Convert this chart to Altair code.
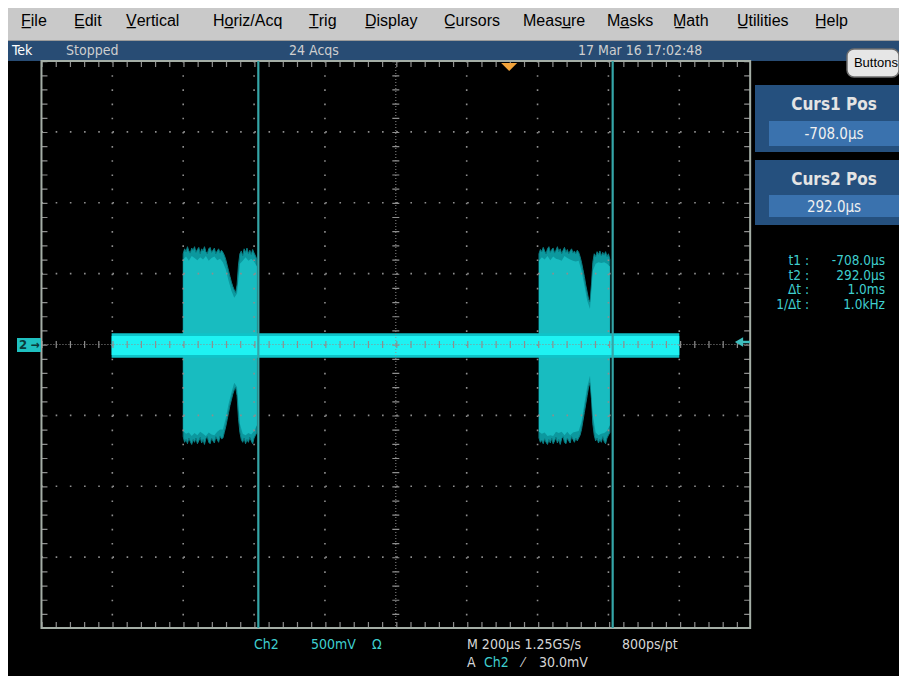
import altair as alt
import pandas as pd

# ---------------- data ----------------
MENU_ITEMS = ["File", "Edit", "Vertical", "Horiz/Acq", "Trig", "Display",
              "Cursors", "Measure", "Masks", "Math", "Utilities", "Help"]
MENU_HOTKEY = [0, 0, 0, 1, 0, 0, 0, 4, 1, 0, 0, 0]
STATUS_ITEMS = ["Tek", "Stopped", "24 Acqs", "17 Mar 16 17:02:48"]
CURSOR_NAMES = ["Curs1 Pos", "Curs2 Pos"]
CURSOR_TIMES = [-708.0, 292.0]          # µs
CURSOR_TEXT = ["-708.0µs", "292.0µs"]
READOUT_LABELS = ["t1 :", "t2 :", "Δt :", "1/Δt :"]
READOUT_VALUES = ["-708.0µs", "292.0µs", "1.0ms", "1.0kHz"]
CH_INFO = ["Ch2", "500mV", "Ω"]
HORIZ_INFO = ["M 200µs 1.25GS/s", "800ps/pt"]
TRIG_INFO = ["A", "Ch2", "⁄", "30.0mV"]
BUTTON_LABEL = "Buttons"

TIME_PER_DIV = 200.0     # µs / div
MV_PER_DIV = 500.0       # mV / div
TIME_LEFT = -1320.0      # µs at left graticule edge
N_HDIV, N_VDIV = 10, 8
TRIGGER_TIME = 0.0
TRACE_SPAN = [-1122.0, 480.0]
BAND_MV = [60.0, -74.0]
BAND_HALO_MV = [80.0, -94.0]

# burst envelopes (outer peaks), µs / mV
BURST1_T = [-920, -916, -912, -908, -904, -900, -896, -892, -888, -884, -880, -876,
            -872, -868, -864, -860, -856, -852, -848, -844, -840, -836, -832, -828,
            -824, -820, -816, -812, -808, -804, -800, -796, -792, -788, -784, -780,
            -776, -772, -768, -764, -760, -756, -752, -748, -744, -740, -736, -732,
            -728, -724, -720, -716, -712]
BURST1_TOP = [640, 675, 655, 690, 660, 645, 680, 665, 690, 650, 670, 685,
              640, 675, 660, 690, 655, 640, 675, 685, 650, 665, 680, 640,
              660, 675, 645, 665, 650, 630, 600, 560, 520, 480, 440, 410,
              385, 365, 420, 560, 640, 660, 625, 675, 650, 680, 640, 665,
              635, 670, 645, 625, 600]
BURST1_BOT = [-650, -690, -670, -700, -660, -685, -705, -670, -690, -660, -700, -680,
              -655, -695, -670, -705, -665, -650, -690, -700, -660, -680, -695, -650,
              -670, -690, -645, -665, -660, -620, -580, -530, -480, -430, -390, -350,
              -320, -300, -360, -520, -620, -670, -690, -660, -700, -670, -690, -655,
              -680, -700, -660, -640, -620]

BURST2_T = [84, 88, 92, 96, 100, 104, 108, 112, 116, 120, 124, 128, 132, 136, 140,
            144, 148, 152, 156, 160, 164, 168, 172, 176, 180, 184, 188, 192, 196,
            200, 204, 208, 212, 216, 220, 224, 228, 232, 236, 240, 244, 248, 252,
            256, 260, 264, 268, 272, 276, 280, 284]
BURST2_TOP = [640, 670, 655, 685, 660, 640, 675, 690, 650, 670, 680, 645, 665, 690, 655,
              675, 640, 665, 685, 650, 670, 640, 660, 675, 645, 660, 640, 665, 650,
              620, 580, 530, 480, 420, 370, 320, 300, 420, 580, 640, 620, 655, 635,
              660, 625, 650, 630, 655, 620, 640, 600]
BURST2_BOT = [-660, -690, -675, -700, -665, -690, -705, -670, -695, -660, -700, -680, -655,
              -695, -670, -705, -665, -650, -690, -700, -660, -680, -695, -650, -670,
              -690, -660, -680, -660, -640, -600, -540, -480, -420, -360, -300, -270,
              -380, -560, -640, -680, -660, -695, -670, -690, -650, -685, -700, -660,
              -640, -620]

# denser core of each burst
CORE1_T = [-920, -912, -904, -896, -888, -880, -872, -864, -856, -848, -840, -832, -824,
           -816, -808, -800, -792, -784, -776, -768, -760, -752, -744, -736, -728, -720, -712]
CORE1_TOP = [600, 620, 590, 625, 610, 595, 615, 600, 625, 590, 610, 620, 595,
             605, 580, 530, 450, 380, 330, 360, 570, 590, 615, 590, 605, 585, 550]
CORE1_BOT = [-610, -630, -620, -645, -625, -640, -615, -630, -645, -620, -635, -640, -615,
             -600, -600, -520, -420, -340, -270, -300, -560, -630, -640, -625, -635, -610, -570]
CORE2_T = [84, 92, 100, 108, 116, 124, 132, 140, 148, 156, 164, 172, 180, 188, 196,
           204, 212, 220, 228, 236, 244, 252, 260, 268, 276, 284]
CORE2_TOP = [590, 615, 600, 625, 595, 620, 605, 600, 590, 625, 610, 600, 590, 585, 590,
             520, 420, 310, 250, 520, 570, 580, 575, 580, 570, 550]
CORE2_BOT = [-615, -630, -620, -645, -640, -645, -615, -625, -615, -640, -615, -640, -620,
             -615, -610, -545, -420, -300, -220, -500, -620, -640, -630, -625, -610, -570]

# ---------------- geometry / style ----------------
OFF = 8.0                      # page margin
W, H = 891, 668                # keeps the page inside the 907x684 window
RIGHT_EDGE, BOTTOM_EDGE = OFF + W, OFF + H
PX_PER_US = 70.95 / TIME_PER_DIV
PX_PER_MV = 70.875 / MV_PER_DIV
X_LEFT_REF = 41.5
Y_ZERO_REF = 344.5
TIME_RIGHT = TIME_LEFT + N_HDIV * TIME_PER_DIV
MV_TOP = N_VDIV / 2 * MV_PER_DIV
MV_BOT = -MV_TOP

x_dom = [TIME_LEFT + (OFF - X_LEFT_REF) / PX_PER_US,
         TIME_LEFT + (OFF + W - X_LEFT_REF) / PX_PER_US]
y_dom = [(Y_ZERO_REF - (OFF + H)) / PX_PER_MV, (Y_ZERO_REF - OFF) / PX_PER_MV]
XS = alt.Scale(domain=x_dom, nice=False, zero=False)
YS = alt.Scale(domain=y_dom, nice=False, zero=False)

TEK = "DejaVu Sans Condensed, Liberation Sans Narrow, sans-serif"
MENU_FONT = "Liberation Sans, Arial, sans-serif"
CYAN_TXT = "#3FCFCF"
GRAY_TXT = "#D6D6D6"
GRID = "#8E8E8E"


def X(f):
    return alt.X(f, type="quantitative", scale=XS, axis=None)


def Y(f):
    return alt.Y(f, type="quantitative", scale=YS, axis=None)


def one():
    return alt.Data(values=[{"k": 1}])


def clampx(v):
    return min(max(v, OFF), RIGHT_EDGE) - OFF


def clampy(v):
    return min(max(v, OFF), BOTTOM_EDGE) - OFF


def prect(x1, y1, x2, y2, fill, **kw):
    return alt.Chart(one()).mark_rect(color=fill, **kw).encode(
        x=alt.value(clampx(x1)), x2=alt.value(clampx(x2)),
        y=alt.value(clampy(y1)), y2=alt.value(clampy(y2)))


def ptext(s, x, y, size, color, font=TEK, weight="normal", align="left"):
    return alt.Chart(alt.Data(values=[{"s": s}])).mark_text(
        align=align, baseline="middle", font=font, fontSize=size,
        fontWeight=weight, color=color).encode(
        x=alt.value(x - OFF), y=alt.value(y - OFF), text="s:N")


layers = []

# ---- window chrome ----
layers.append(prect(0, 0, 907, 41, "#C9C9C9"))
layers.append(prect(0, 40, 907, 41, "#9A9A9A"))
layers.append(prect(0, 41, 907, 61, "#284C74"))

menu_x = [21, 74, 126, 213, 309, 365, 444, 523, 607, 673, 737, 815]
for name, hk, mx in zip(MENU_ITEMS, MENU_HOTKEY, menu_x):
    lab = name[:hk + 1] + "\u0332" + name[hk + 1:]
    layers.append(ptext(lab, mx, 21, 16, "#000000", font=MENU_FONT))

status_x = [12, 66, 289, 578]
status_col = ["#FFFFFF", "#CFCFCF", "#CFCFCF", "#CFCFCF"]
for s, sx, c in zip(STATUS_ITEMS, status_x, status_col):
    layers.append(ptext(s, sx, 51, 14, c))

# Buttons tab
layers.append(prect(847, 49, 907, 77, "#E6E6E6", stroke="#6E6E6E",
                    strokeWidth=1.5, cornerRadius=7))
layers.append(ptext(BUTTON_LABEL, 876, 63, 13, "#000000", font=MENU_FONT, align="center"))

# cursor position boxes
box_y = [(85, 152, 121, 146, 105, 134), (160, 225, 195, 217, 180, 207)]
for name, val, (y1, y2, iy1, iy2, ty, vy) in zip(CURSOR_NAMES, CURSOR_TEXT, box_y):
    layers.append(prect(755, y1, 907, y2, "#25507E"))
    layers.append(prect(769, iy1, 902, iy2, "#3A72AE"))
    layers.append(ptext(name, 834, ty, 17, "#E4E4E4", weight="bold", align="center"))
    layers.append(ptext(val, 834, vy, 15, "#F0F0F0", align="center"))

read_y = [261, 275.5, 290, 304.5]
for lab, val, ry in zip(READOUT_LABELS, READOUT_VALUES, read_y):
    layers.append(ptext(lab, 809, ry, 13.5, CYAN_TXT, align="right"))
    layers.append(ptext(val, 885, ry, 13.5, CYAN_TXT, align="right"))

# ---- waveform ----
for bt, btop, bbot in [(BURST1_T, BURST1_TOP, BURST1_BOT), (BURST2_T, BURST2_TOP, BURST2_BOT)]:
    df = pd.DataFrame({"t": bt, "top": btop, "bot": bbot})
    layers.append(alt.Chart(df).mark_area(color="#0C989E", stroke="#0A7A80",
                                          strokeWidth=1, opacity=1).encode(
        x=X("t"), y=Y("top"), y2="bot"))
for bt, btop, bbot in [(CORE1_T, CORE1_TOP, CORE1_BOT), (CORE2_T, CORE2_TOP, CORE2_BOT)]:
    df = pd.DataFrame({"t": bt, "top": btop, "bot": bbot})
    layers.append(alt.Chart(df).mark_area(color="#18BCC0", opacity=1).encode(
        x=X("t"), y=Y("top"), y2="bot"))

for (bt, bb), col in [(BAND_HALO_MV, "#0FC3C8"), (BAND_MV, "#1EF2F2")]:
    df = pd.DataFrame({"t0": [TRACE_SPAN[0]], "t1": [TRACE_SPAN[1]], "a": [bt], "b": [bb]})
    layers.append(alt.Chart(df).mark_rect(color=col).encode(
        x=X("t0"), x2="t1", y=Y("a"), y2="b"))

# ---- graticule ----
center_t = TIME_LEFT + N_HDIV / 2 * TIME_PER_DIV
vlines = [TIME_LEFT + k * TIME_PER_DIV for k in range(1, N_HDIV) if k != N_HDIV // 2]
hlines = [(j - N_VDIV // 2) * MV_PER_DIV for j in range(1, N_VDIV) if j != N_VDIV // 2]
vdash = 70.875 / 5
hdash = 70.95 / 5

dfv = pd.DataFrame({"t": vlines, "a": MV_TOP, "b": MV_BOT})
layers.append(alt.Chart(dfv).mark_rule(color=GRID, strokeWidth=1.6,
                                       strokeDash=[1.6, vdash - 1.6]).encode(
    x=X("t"), y=Y("a"), y2="b"))
dfh = pd.DataFrame({"v": hlines, "a": TIME_LEFT, "b": TIME_RIGHT})
layers.append(alt.Chart(dfh).mark_rule(color=GRID, strokeWidth=1.6,
                                       strokeDash=[1.6, hdash - 1.6]).encode(
    y=Y("v"), x=X("a"), x2="b"))

# centre lines: fine dots + cross ticks
dfcv = pd.DataFrame({"t": [center_t], "a": [MV_TOP], "b": [MV_BOT]})
dfch = pd.DataFrame({"v": [0.0], "a": [TIME_LEFT], "b": [TIME_RIGHT]})
layers.append(alt.Chart(dfcv).mark_rule(color=GRID, strokeWidth=1, strokeDash=[1, 2]).encode(
    x=X("t"), y=Y("a"), y2="b"))
layers.append(alt.Chart(dfcv).mark_rule(color=GRID, strokeWidth=7,
                                        strokeDash=[1.2, vdash - 1.2]).encode(
    x=X("t"), y=Y("a"), y2="b"))
layers.append(alt.Chart(dfch).mark_rule(color=GRID, strokeWidth=1, strokeDash=[1, 2]).encode(
    y=Y("v"), x=X("a"), x2="b"))
layers.append(alt.Chart(dfch).mark_rule(color=GRID, strokeWidth=7,
                                        strokeDash=[1.2, hdash - 1.2]).encode(
    y=Y("v"), x=X("a"), x2="b"))

# edge ticks
for v, off in [(MV_TOP, 3), (MV_BOT, -3)]:
    d = pd.DataFrame({"v": [v], "a": [TIME_LEFT], "b": [TIME_RIGHT]})
    layers.append(alt.Chart(d).mark_rule(color=GRID, strokeWidth=6, yOffset=off,
                                         strokeDash=[1.2, hdash - 1.2]).encode(
        y=Y("v"), x=X("a"), x2="b"))
for t, off in [(TIME_LEFT, 3), (TIME_RIGHT, -3)]:
    d = pd.DataFrame({"t": [t], "a": [MV_TOP], "b": [MV_BOT]})
    layers.append(alt.Chart(d).mark_rule(color=GRID, strokeWidth=6, xOffset=off,
                                         strokeDash=[1.2, vdash - 1.2]).encode(
        x=X("t"), y=Y("a"), y2="b"))

# frame
dff = pd.DataFrame({"a": [TIME_LEFT], "b": [TIME_RIGHT], "c": [MV_TOP], "d": [MV_BOT]})
layers.append(alt.Chart(dff).mark_rect(filled=False, stroke="#A4AEA6", strokeWidth=2).encode(
    x=X("a"), x2="b", y=Y("c"), y2="d"))

# cursors
dfc = pd.DataFrame({"t": CURSOR_TIMES, "a": MV_TOP, "b": MV_BOT})
layers.append(alt.Chart(dfc).mark_rule(color="#35A6A8", strokeWidth=2.2).encode(
    x=X("t"), y=Y("a"), y2="b"))

# trigger position marker
dft = pd.DataFrame({"t": [TRIGGER_TIME]})
layers.append(alt.Chart(dft).mark_point(shape="M -1 -0.5 L 1 -0.5 L 0 0.5 Z", size=256,
                                        filled=True, color="#F2A33A", opacity=1).encode(
    x=X("t"), y=alt.value(67 - OFF)))

# channel ground marker
layers.append(prect(17, 338, 41, 352, "#1FC0C0"))
layers.append(ptext("2", 23, 345, 13, "#0B3B3B", weight="bold", align="center"))
layers.append(ptext("→", 35, 345, 12, "#0B3B3B", weight="bold", align="center"))

# trigger level arrow (pointing left, right of graticule)
layers.append(alt.Chart(one()).mark_rule(color="#3EBDBD", strokeWidth=2.5).encode(
    x=alt.value(738 - OFF), x2=alt.value(750 - OFF), y=alt.value(342 - OFF)))
layers.append(alt.Chart(one()).mark_point(shape="triangle-left", size=90, filled=True,
                                          color="#3EBDBD", opacity=1).encode(
    x=alt.value(739 - OFF), y=alt.value(342 - OFF)))

# ---- bottom readouts ----
layers.append(ptext(CH_INFO[0], 254, 645, 14, CYAN_TXT))
layers.append(ptext(CH_INFO[1], 311, 645, 14, CYAN_TXT))
layers.append(ptext(CH_INFO[2], 372, 645, 14, CYAN_TXT))
layers.append(ptext(HORIZ_INFO[0], 467, 645, 14, GRAY_TXT))
layers.append(ptext(HORIZ_INFO[1], 622, 645, 14, GRAY_TXT))
layers.append(ptext(TRIG_INFO[0], 467, 663, 14, GRAY_TXT))
layers.append(ptext(TRIG_INFO[1], 484, 663, 14, CYAN_TXT))
layers.append(ptext(TRIG_INFO[2], 522, 663, 14, GRAY_TXT))
layers.append(ptext(TRIG_INFO[3], 539, 663, 14, GRAY_TXT))

chart = alt.layer(*layers).properties(
    width=W, height=H,
    autosize=alt.AutoSizeParams(type="fit", contains="padding"),
    padding=0, background="#000000",
).configure_view(stroke=None)

chart.save("out.html", embed_options={"renderer": "svg", "actions": False})
